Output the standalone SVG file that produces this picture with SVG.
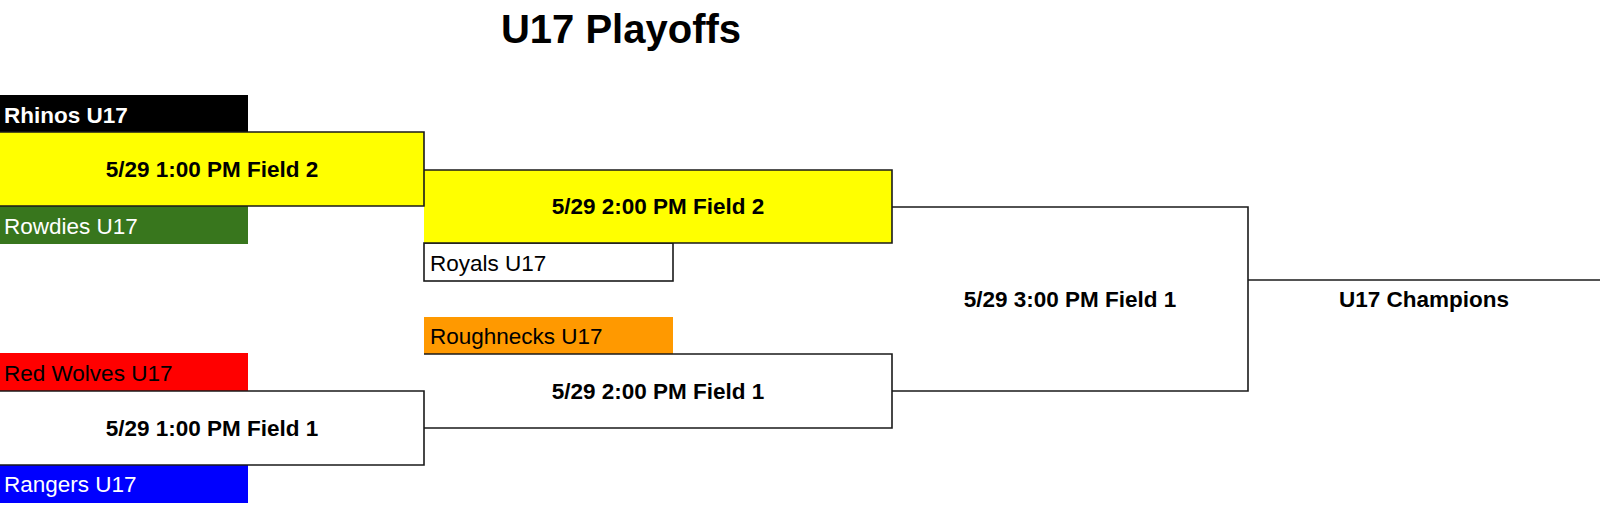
<svg xmlns="http://www.w3.org/2000/svg" width="1600" height="505" viewBox="0 0 1600 505">
<style>
text{font-family:"Liberation Sans",Arial,sans-serif;font-size:22.5px;fill:#000}
.b{font-weight:bold}
.g{text-anchor:middle;font-weight:bold}
.w{fill:#fff}
.ln{fill:none;stroke:#1a1a1a;stroke-width:1.6}
</style>
<rect width="1600" height="505" fill="#fff"/>
<text x="621" y="43" text-anchor="middle" class="b" style="font-size:40px">U17 Playoffs</text>
<g id="rhinos"><rect x="0" y="95" width="248" height="37" fill="#000"/><text x="4" y="123" class="b w">Rhinos U17</text></g>
<g id="rowdies"><rect x="0" y="206" width="248" height="38" fill="#38761d"/><text x="4" y="234" class="w">Rowdies U17</text></g>
<g id="redwolves"><rect x="0" y="353" width="248" height="38" fill="#ff0000"/><text x="4" y="381">Red Wolves U17</text></g>
<g id="rangers"><rect x="0" y="465" width="248" height="38" fill="#0000ff"/><text x="4" y="492" class="w">Rangers U17</text></g>
<g id="royals"><rect x="424" y="243" width="249" height="38" fill="#fff" class="ln" style="fill:#fff"/><text x="430" y="271">Royals U17</text></g>
<g id="roughnecks"><rect x="424" y="317" width="249" height="37" fill="#ff9900"/><text x="430" y="344">Roughnecks U17</text></g>
<g id="game1"><rect x="0" y="132" width="424" height="74" fill="#ffff00"/><text x="212" y="177" class="g">5/29 1:00 PM Field 2</text></g>
<g id="game2"><rect x="424" y="170" width="468" height="73" fill="#ffff00"/><text x="658" y="214" class="g">5/29 2:00 PM Field 2</text></g>
<g id="game3"><rect x="0" y="391" width="424" height="74" fill="#fff"/><text x="212" y="436" class="g">5/29 1:00 PM Field 1</text></g>
<g id="game4"><rect x="424" y="354" width="468" height="74" fill="#fff"/><text x="658" y="399" class="g">5/29 2:00 PM Field 1</text></g>
<g id="final"><rect x="892" y="207" width="356" height="184" fill="#fff"/><text x="1070" y="307" class="g">5/29 3:00 PM Field 1</text></g>
<g id="champion"><text x="1424" y="307" class="g">U17 Champions</text></g>
<g id="connectors" class="ln">
<path d="M0,132H424V206H0"/>
<path d="M424,170H892V243H424"/>
<path d="M0,391H424V465H0"/>
<path d="M424,354H892V428H424"/>
<path d="M892,207H1248V391H892"/>
<path d="M1248,280H1600"/>
</g>
</svg>
